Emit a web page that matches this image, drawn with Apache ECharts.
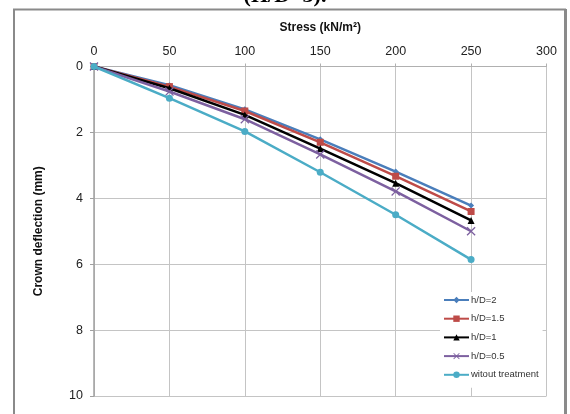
<!DOCTYPE html>
<html>
<head>
<meta charset="utf-8">
<script src="https://cdn.jsdelivr.net/npm/echarts@6/dist/echarts.min.js"></script>
<style>
html,body{margin:0;padding:0;background:#fff;}
#c{width:570px;height:414px;}
</style>
</head>
<body>
<div id="c"></div>
<script>
var stress = [0, 50, 100, 150, 200, 250];
var seriesNames = ['h/D=2', 'h/D=1.5', 'h/D=1', 'h/D=0.5', 'witout treatment'];
var hD2 = [0, 0.57, 1.30, 2.21, 3.19, 4.22];
var hD15 = [0, 0.61, 1.35, 2.30, 3.33, 4.40];
var hD1 = [0, 0.66, 1.47, 2.49, 3.54, 4.67];
var hD05 = [0, 0.76, 1.60, 2.67, 3.79, 5.00];
var noTreat = [0, 0.96, 1.97, 3.21, 4.50, 5.86];
var xTicks = [0, 50, 100, 150, 200, 250, 300];
var yTicks = [0, 2, 4, 6, 8, 10];

var colors = ['#4a7ebb', '#be4b48', '#000000', '#7d60a0', '#4bacc6'];
var symbols = ['diamond', 'rect', 'triangle',
  'path://M0,1L1,0L5,4L9,0L10,1L6,5L10,9L9,10L5,6L1,10L0,9L4,5Z', 'circle'];
var sizes = [6, 7, 7, 9, 7];
var allData = [hD2, hD15, hD1, hD05, noTreat];

function pairs(vals) {
  return stress.map(function (s, i) { return [s, vals[i]]; });
}

var series = allData.map(function (d, i) {
  return {
    name: seriesNames[i],
    type: 'line',
    data: pairs(d),
    symbol: symbols[i],
    symbolSize: sizes[i],
    showAllSymbol: true,
    lineStyle: { color: colors[i], width: 2.5 },
    itemStyle: { color: colors[i] },
    emphasis: { disabled: true },
    z: 2 + i
  };
});

var chart = echarts.init(document.getElementById('c'), null, { renderer: 'canvas' });
chart.setOption({
  animation: false,
  backgroundColor: '#ffffff',
  textStyle: { fontFamily: 'Liberation Sans, Arial, sans-serif' },
  grid: { left: 94, right: 23.5, top: 66.5, bottom: 18, containLabel: false },
  legend: {
    orient: 'vertical',
    left: 440,
    top: 292,
    itemWidth: 25,
    itemHeight: 8,
    itemGap: 8.7,
    padding: [3, 4, 8, 3],
    backgroundColor: '#ffffff',
    textStyle: { fontSize: 9.5, color: '#333', padding: [0, 0, 0, -3] },
    data: seriesNames
  },
  xAxis: {
    type: 'value',
    position: 'top',
    min: 0, max: 300, interval: 50,
    name: 'Stress (kN/m²)',
    nameLocation: 'middle',
    nameGap: 33,
    nameTextStyle: { fontWeight: 'bold', fontSize: 12, color: '#111' },
    axisLine: { show: true, lineStyle: { color: '#b0b0b0', width: 1 } },
    axisTick: { show: true, length: 3, lineStyle: { color: '#b0b0b0' } },
    axisLabel: { fontSize: 12.5, color: '#222', margin: 8 },
    splitLine: { show: true, lineStyle: { color: '#c4c4c4', width: 1 } }
  },
  yAxis: {
    type: 'value',
    inverse: true,
    min: 0, max: 10, interval: 2,
    name: 'Crown deflection (mm)',
    nameLocation: 'middle',
    nameGap: 49,
    nameTextStyle: { fontWeight: 'bold', fontSize: 12, color: '#111' },
    axisLine: { show: true, lineStyle: { color: '#a0a0a0', width: 1.5 } },
    axisTick: { show: true, length: 4, lineStyle: { color: '#a0a0a0' } },
    axisLabel: { fontSize: 12.5, color: '#222', margin: 11 },
    splitLine: { show: true, lineStyle: { color: '#c4c4c4', width: 1 } }
  },
  graphic: [
    {
      type: 'rect',
      shape: { x: 14, y: 9.5, width: 551, height: 420 },
      style: { fill: 'none', stroke: '#8a8a8a', lineWidth: 2 },
      z: 100, silent: true
    },
    {
      type: 'rect',
      shape: { x: 564, y: 9, width: 3, height: 410 },
      style: { fill: '#8a8a8a' },
      z: 100, silent: true
    },
    {
      type: 'text',
      left: 'center',
      top: -15,
      style: {
        text: '(H/D=3).',
        font: 'bold 22px "Liberation Serif", "Times New Roman", serif',
        fill: '#000'
      },
      z: 100, silent: true
    }
  ],
  series: series
});
</script>
</body>
</html>
